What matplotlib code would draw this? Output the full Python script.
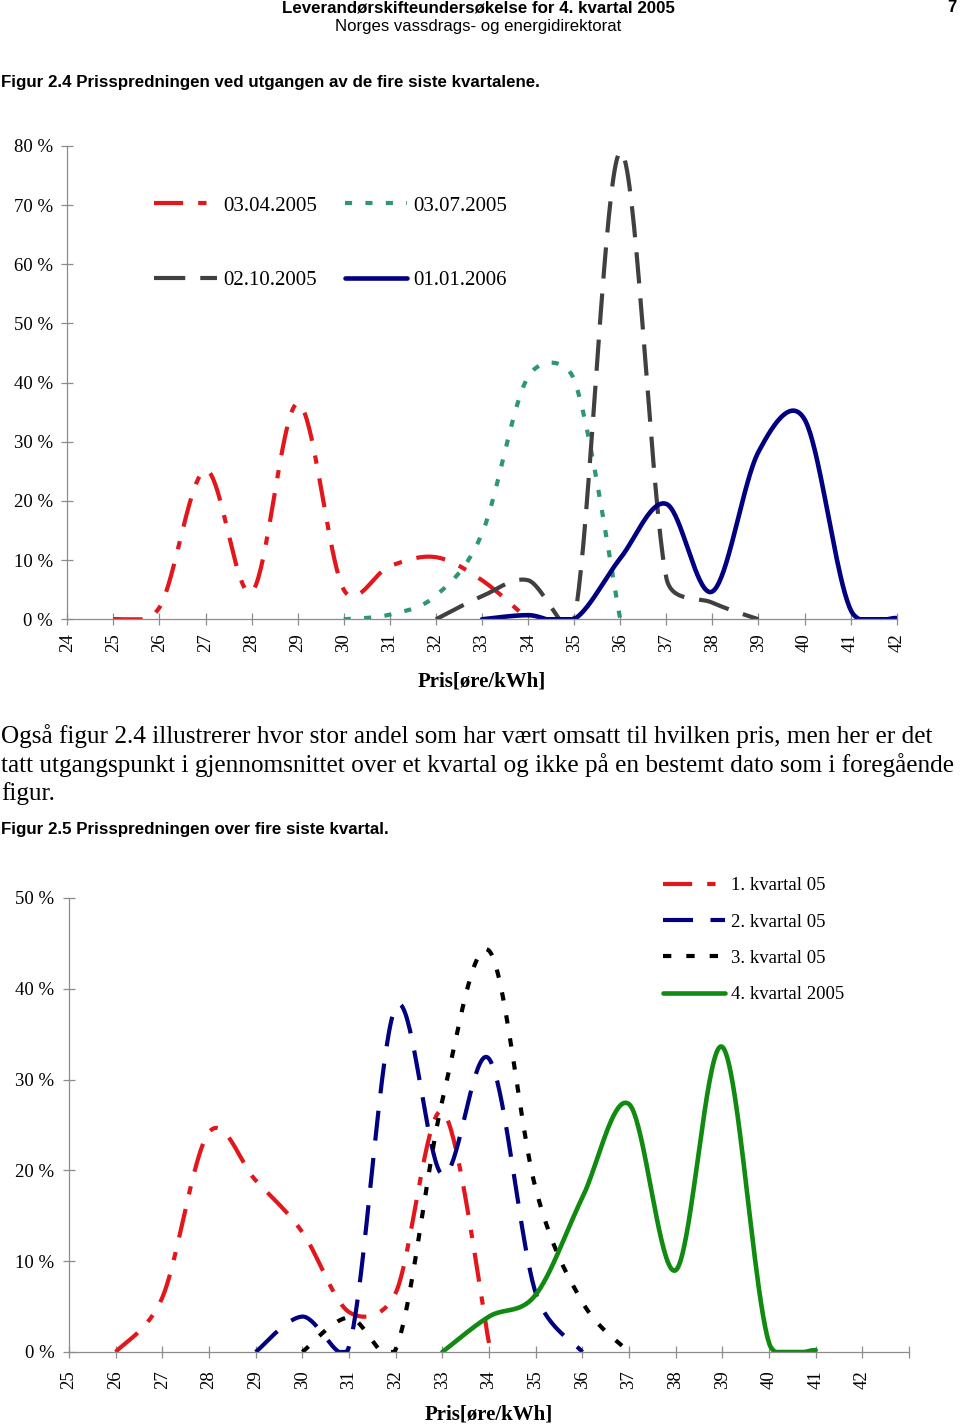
import numpy as np
import matplotlib
matplotlib.use("Agg")
import matplotlib.pyplot as plt

# ---------------- data (values in %) ----------------
top_ticks = list(range(24, 43))
top_series_labels = ["03.04.2005", "03.07.2005", "02.10.2005", "01.01.2006"]
apr_x = [25, 26, 27, 28, 29, 30, 31, 32, 33, 34]
apr_y = [0.0, 2.0, 25.2, 4.6, 36.5, 5.0, 9.0, 10.5, 6.6, 0.0]
jul_x = [30, 31, 32, 33, 34, 35, 36]
jul_y = [0.0, 0.8, 4.0, 14.5, 41.0, 40.5, 0.0]
oct_x = [32, 33, 34, 35, 36, 37, 38, 39]
oct_y = [0.0, 3.9, 6.6, 0.0, 79.0, 7.0, 2.8, 0.0]
jan_x = [33, 34, 35, 36, 37, 38, 39, 40, 41, 42]
jan_y = [0.0, 0.7, 0.0, 10.3, 19.5, 4.7, 28.3, 33.8, 1.6, 0.2]

bot_ticks = list(range(25, 44))
bot_tick_labels = [str(v) for v in range(25, 43)] + [""]
bot_series_labels = ["1. kvartal 05", "2. kvartal 05", "3. kvartal 05", "4. kvartal 2005"]
q1_x = [26, 27, 28, 29, 30, 31, 32, 33, 34]
q1_y = [0.0, 6.0, 24.2, 18.9, 13.2, 4.4, 6.5, 26.5, 1.0]
q2_x = [29, 30, 31, 32, 33, 34, 35, 36]
q2_y = [0.0, 3.9, 0.6, 38.0, 19.5, 32.3, 6.5, 0.0]
q3_x = [30, 31, 32, 33, 34, 35, 36, 37]
q3_y = [0.0, 3.8, 0.3, 27.7, 44.2, 18.0, 5.5, 0.0]
q4_x = [33, 34, 35, 36, 37, 38, 39, 40, 41]
q4_y = [0.0, 3.9, 6.3, 17.0, 27.3, 9.0, 33.6, 1.0, 0.2]

paragraph = [
    "Også figur 2.4 illustrerer hvor stor andel som har vært omsatt til hvilken pris, men her er det",
    "tatt utgangspunkt i gjennomsnittet over et kvartal og ikke på en bestemt dato som i foregående",
    "figur.",
]

# ---------------- helpers ----------------
SERIF = ["Liberation Serif", "DejaVu Serif"]
SANS_N = ["Liberation Sans Narrow", "Liberation Sans", "DejaVu Sans"]

W, H = 960, 1426
fig = plt.figure(figsize=(W / 100, H / 100), dpi=100)
renderer = fig.canvas.get_renderer()


def smooth(ax, xs, ys, n=40):
    """Excel-like smoothed line: cubic Bezier through the data points,
    computed in display space with control arms limited by chord length."""
    pts = ax.transData.transform(np.column_stack([xs, ys]).astype(float))
    N = len(pts)
    segs = []
    for i in range(N - 1):
        P0, P3 = pts[i], pts[i + 1]
        seg = np.linalg.norm(P3 - P0)
        prev = pts[i - 1] if i > 0 else pts[i]
        nxt = pts[i + 2] if i + 2 < N else pts[i + 1]
        d0 = pts[i + 1] - prev
        d1 = nxt - pts[i]
        n0, n1 = np.linalg.norm(d0), np.linalg.norm(d1)
        c1 = P0 + d0 / n0 * min(n0 / 6.0, seg * 0.5)
        c2 = P3 - d1 / n1 * min(n1 / 6.0, seg * 0.5)
        t = np.linspace(0, 1, n, endpoint=(i == N - 2))[:, None]
        B = ((1 - t) ** 3) * P0 + 3 * ((1 - t) ** 2) * t * c1 + 3 * (1 - t) * t**2 * c2 + t**3 * P3
        segs.append(B)
    data = ax.transData.inverted().transform(np.vstack(segs))
    return data[:, 0], np.maximum(data[:, 1], 0.0)


def fpos(x, y):
    return x / W, 1 - y / H


def fit_text(s, x, y, width, ha="left", va="center", **kw):
    t = fig.text(*fpos(x, y), s, ha=ha, va=va, fontsize=12, **kw)
    w = t.get_window_extent(renderer).width
    t.set_fontsize(12 * width / w)
    return t


def style_axes(ax):
    for side in ("top", "right"):
        ax.spines[side].set_visible(False)
    for side in ("left", "bottom"):
        ax.spines[side].set_color("#8c8c8c")
        ax.spines[side].set_linewidth(0.9)
    ax.tick_params(axis="both", direction="inout", length=8, width=0.9,
                   color="#8c8c8c", labelsize=13.5, labelcolor="black")
    ax.tick_params(axis="y", pad=6.5)
    ax.set_facecolor("none")
    for lab in ax.get_xticklabels() + ax.get_yticklabels():
        lab.set_fontfamily(SERIF)


# ---------------- page text ----------------
fit_text("Leverandørskifteundersøkelse for 4. kvartal 2005", 478.5, 8, 391,
         ha="center", fontweight="bold", family=SANS_N)
fit_text("Norges vassdrags- og energidirektorat", 478, 27, 286,
         ha="center", family=SANS_N)
fig.text(*fpos(957, 8), "7", ha="right", va="center", fontsize=12,
         fontweight="bold", family=SANS_N)
fit_text("Figur 2.4 Prisspredningen ved utgangen av de fire siste kvartalene.",
         1, 82, 536, fontweight="bold", family=SANS_N)
fit_text(paragraph[0], 1, 736, 931, family=SERIF)
p2 = fit_text(paragraph[1], 1, 765, 954, family=SERIF)
fig.text(*fpos(1, 794), paragraph[2], ha="left", va="center",
         family=SERIF, fontsize=p2.get_fontsize())
fit_text("Figur 2.5 Prisspredningen over fire siste kvartal.", 1, 830, 385,
         fontweight="bold", family=SANS_N)

# ---------------- top chart ----------------
l, r, t_, b = 67.3, 896.7, 146.0, 619.3
ax1 = fig.add_axes([l / W, 1 - b / H, (r - l) / W, (b - t_) / H])
ax1.set_xlim(24, 42)
ax1.set_ylim(0, 80)
ax1.set_xticks(top_ticks)
ax1.set_xticklabels([str(v) for v in top_ticks], rotation=90)
ax1.set_yticks(range(0, 81, 10))
ax1.set_yticklabels([f"{v} %" for v in range(0, 81, 10)])
style_axes(ax1)
ax1.tick_params(axis="x", pad=6)

top_specs = [
    (apr_x, apr_y, "#e3161b", (0, (7, 3.6, 2, 3.6)), 3.0),
    (jul_x, jul_y, "#2f9670", (0, (1.7, 3.2)), 3.0),
    (oct_x, oct_y, "#404040", (0, (7.5, 3.6)), 3.0),
    (jan_x, jan_y, "#000080", "solid", 3.3),
]
top_lines = []
for (xs, ys, c, ls, lw), lab in zip(top_specs, top_series_labels):
    sx, sy = smooth(ax1, xs, ys)
    ln, = ax1.plot(sx, sy, color=c, linestyle=ls, linewidth=lw, label=lab,
                   solid_capstyle="round", dash_capstyle="butt")
    top_lines.append(ln)

order = [0, 2, 1, 3]
ax1.legend([top_lines[i] for i in order], [top_series_labels[i] for i in order],
           ncol=2, loc="upper left", bbox_to_anchor=((154 - l) / (r - l), (b - 196) / (b - t_)),
           frameon=False, borderpad=0, borderaxespad=0, handlelength=3.0,
           handletextpad=0.3, labelspacing=2.65, columnspacing=1.35,
           prop={"family": SERIF, "size": 15})
ax1.set_xlabel("Pris[øre/kWh]", fontsize=15, fontweight="bold", family=SERIF, labelpad=14)

# ---------------- bottom chart ----------------
l2, r2, t2, b2 = 69.0, 909.0, 898.0, 1352.0
ax2 = fig.add_axes([l2 / W, 1 - b2 / H, (r2 - l2) / W, (b2 - t2) / H])
ax2.set_xlim(25, 43)
ax2.set_ylim(0, 50)
ax2.set_xticks(bot_ticks)
ax2.set_xticklabels(bot_tick_labels, rotation=90)
ax2.set_yticks(range(0, 51, 10))
ax2.set_yticklabels([f"{v} %" for v in range(0, 51, 10)])
style_axes(ax2)
ax2.tick_params(axis="x", pad=9)

bot_specs = [
    (q1_x, q1_y, "#e3161b", (0, (7, 3.6, 2, 3.6)), 3.0),
    (q2_x, q2_y, "#000080", (0, (7.2, 4.2)), 3.0),
    (q3_x, q3_y, "#000000", (0, (2.0, 3.6)), 3.0),
    (q4_x, q4_y, "#118a11", "solid", 3.3),
]
bot_lines = []
for (xs, ys, c, ls, lw), lab in zip(bot_specs, bot_series_labels):
    sx, sy = smooth(ax2, xs, ys)
    ln, = ax2.plot(sx, sy, color=c, linestyle=ls, linewidth=lw, label=lab,
                   solid_capstyle="round", dash_capstyle="butt")
    bot_lines.append(ln)

ax2.legend(bot_lines, bot_series_labels, ncol=1, loc="upper left",
           bbox_to_anchor=((663 - l2) / (r2 - l2), (b2 - 877) / (b2 - t2)),
           frameon=False, borderpad=0, borderaxespad=0, handlelength=3.3,
           handletextpad=0.35, labelspacing=1.03,
           prop={"family": SERIF, "size": 13.5})
ax2.set_xlabel("Pris[øre/kWh]", fontsize=15, fontweight="bold", family=SERIF, labelpad=11)

fig.savefig("out.png", dpi=100, facecolor="white")
